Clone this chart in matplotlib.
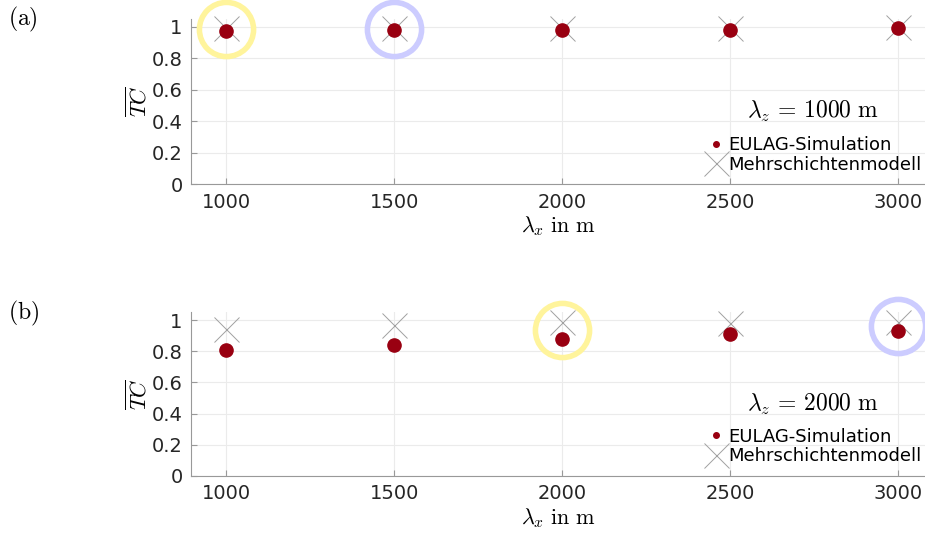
import matplotlib
matplotlib.use("Agg")
import matplotlib.pyplot as plt
from matplotlib.lines import Line2D
import numpy as np

plt.rcParams['mathtext.fontset'] = 'cm'
plt.rcParams['font.family'] = 'DejaVu Sans'

lambda_x = [1000, 1500, 2000, 2500, 3000]

# panel (a): lambda_z = 1000 m
eulag_a = [0.975, 0.98, 0.98, 0.98, 0.99]
model_a = [0.99, 0.99, 0.99, 0.99, 0.995]
# panel (b): lambda_z = 2000 m
eulag_b = [0.81, 0.84, 0.88, 0.91, 0.93]
model_b = [0.94, 0.97, 0.99, 0.98, 0.99]

# highlighted cases (best / worst) per panel
best_a, worst_a = 1000, 1500
best_b, worst_b = 2000, 3000

lambda_z = [1000, 2000]

red = '#990011'
ink = '#262626'
cross = '#a0a0a0'

fig = plt.figure(figsize=(9.25, 5.37), dpi=100)
ax_a = fig.add_axes([0.2065, 0.657, 0.7935, 0.308])
ax_b = fig.add_axes([0.2065, 0.1136, 0.7935, 0.305])


def draw_panel(ax, eulag, model, hi_yellow, hi_blue, lz, tag):
    x = np.array(lambda_x)
    eulag = np.array(eulag)
    model = np.array(model)
    mid = (eulag + model) / 2
    for xc, col in [(hi_yellow, '#fff49c'), (hi_blue, '#ccccff')]:
        i = lambda_x.index(xc)
        ax.plot(x[i], mid[i], 'o', ms=39, mfc='none', mec=col, mew=4,
                zorder=2, clip_on=False)
    ax.plot(x, model, 'x', ms=18, color=cross, mew=0.7, zorder=3,
            clip_on=False)
    ax.plot(x, eulag, 'o', ms=9.5, color=red, zorder=4, clip_on=False)

    ax.set_xlim(895, 3080)
    ax.set_ylim(0, 1.05)
    ax.set_xticks(lambda_x)
    ax.set_yticks([0, 0.2, 0.4, 0.6, 0.8, 1])
    ax.set_yticklabels(['0', '0.2', '0.4', '0.6', '0.8', '1'])
    ax.tick_params(direction='in', length=4, color='#999999', labelsize=14,
                   labelcolor=ink, pad=6)
    ax.grid(True, color='#ebebeb', lw=0.8)
    ax.set_axisbelow(True)
    for s in ['top', 'right']:
        ax.spines[s].set_visible(False)
    for s in ['left', 'bottom']:
        ax.spines[s].set_color('#999999')
    ax.set_xlabel(r'$\lambda_x\ \mathrm{in\ m}$', fontsize=16, labelpad=2)
    ax.set_ylabel(r'$\overline{TC}$', fontsize=16, labelpad=1)

    ax.text(2747, 0.46, r'$\lambda_z\,=\,%d\ \mathrm{m}$' % lz, fontsize=17,
            ha='center', va='center')
    handles = [
        Line2D([], [], ls='none', marker='o', ms=4, color=red),
        Line2D([], [], ls='none', marker='x', ms=18, color=cross, mew=0.7),
    ]
    ax.legend(handles, ['EULAG-Simulation', 'Mehrschichtenmodell'],
              loc='lower right', bbox_to_anchor=(1.005, 0.02), frameon=False,
              fontsize=13, handlelength=1.0, handletextpad=0.15,
              labelspacing=0.1, borderaxespad=0.0)

    fig.text(0.009, ax.get_position().y1 + 0.025, r'$\mathrm{(%s)}$' % tag,
             fontsize=17, va='top', ha='left')


draw_panel(ax_a, eulag_a, model_a, best_a, worst_a, lambda_z[0], 'a')
draw_panel(ax_b, eulag_b, model_b, best_b, worst_b, lambda_z[1], 'b')

fig.savefig('out.png', dpi=100)
